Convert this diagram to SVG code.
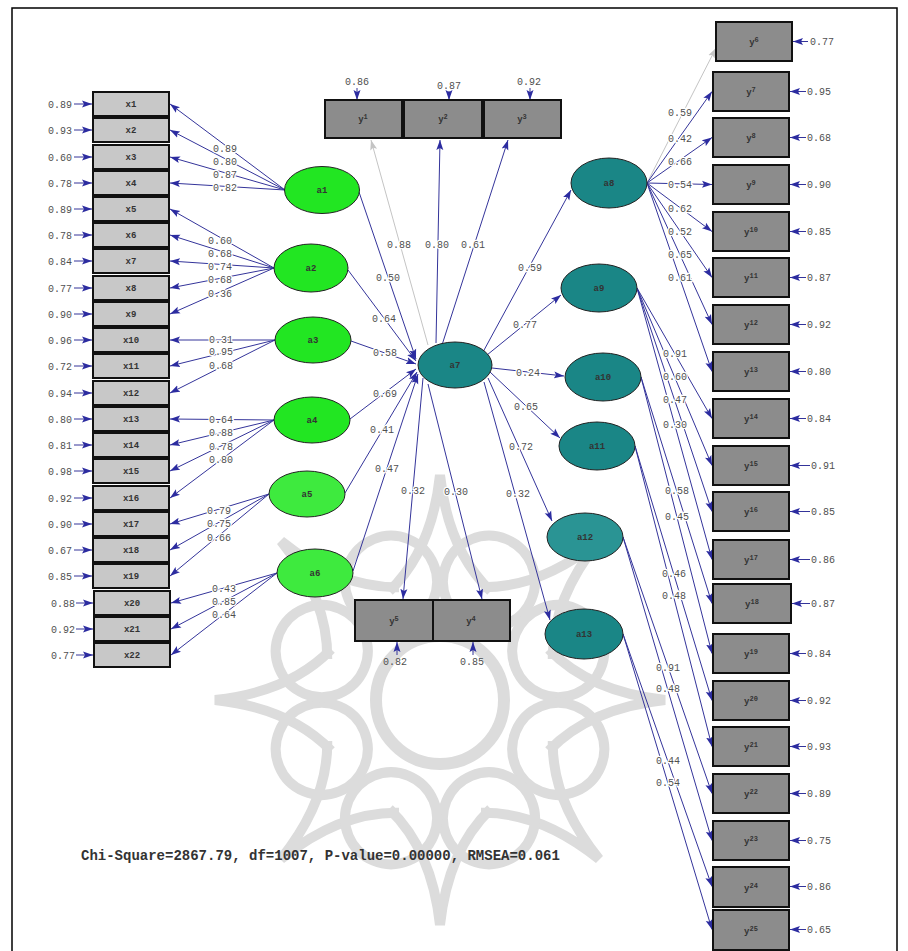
<svg xmlns="http://www.w3.org/2000/svg" xmlns:xlink="http://www.w3.org/1999/xlink" width="908" height="951" viewBox="0 0 908 951">
<defs>
<style>
.bx{fill:#c8c8c8;stroke:#111;stroke-width:2}
.by{fill:#8c8c8c;stroke:#111;stroke-width:2}
.g{fill:#22e622;stroke:#222;stroke-width:1}
.g2{fill:#3eea3e;stroke:#222;stroke-width:1}
.t{fill:#1a8686;stroke:#222;stroke-width:1}
.c line{stroke:#34349a;stroke-width:1;fill:none;marker-end:url(#ah)}
.c line.gr{stroke:#c4c4c4;marker-end:url(#ahg)}
.lb{font-family:"Liberation Mono",monospace;font-size:10px;fill:#505050;text-anchor:middle;paint-order:stroke;stroke:#fff;stroke-width:2.5px}
.el{font-family:"Liberation Mono",monospace;font-size:10px;fill:#505050}
.nl{font-family:"Liberation Mono",monospace;font-size:9px;font-weight:bold;fill:#333;text-anchor:middle}
.sup{font-size:7px}
.wm{fill:none;stroke:#dcdcdc;stroke-width:10}
</style>
<marker id="ah" markerUnits="userSpaceOnUse" markerWidth="10" markerHeight="8" refX="10" refY="4" orient="auto"><path d="M0,0.5 L10,4 L0,7.5 L2,4 z" fill="#2c2ca0"/></marker>
<marker id="ahg" markerUnits="userSpaceOnUse" markerWidth="10" markerHeight="8" refX="10" refY="4" orient="auto"><path d="M0,0.5 L10,4 L0,7.5 L2,4 z" fill="#c4c4c4"/></marker>
<path id="sp" d="M-50.7,-108.8 Q-8,-150 0,-225 Q8,-150 50.7,-108.8"/>
<circle id="lp" cx="0" cy="-128" r="46"/>
</defs>
<rect x="0" y="0" width="908" height="951" fill="#fff"/>
<rect x="12" y="8" width="885" height="960" fill="none" stroke="#000" stroke-width="1.5"/>

<g id="watermark" class="wm">
<use xlink:href="#sp" transform="translate(440,700) rotate(0)"/>
<use xlink:href="#sp" transform="translate(440,700) rotate(45)"/>
<use xlink:href="#sp" transform="translate(440,700) rotate(90)"/>
<use xlink:href="#sp" transform="translate(440,700) rotate(135)"/>
<use xlink:href="#sp" transform="translate(440,700) rotate(180)"/>
<use xlink:href="#sp" transform="translate(440,700) rotate(225)"/>
<use xlink:href="#sp" transform="translate(440,700) rotate(270)"/>
<use xlink:href="#sp" transform="translate(440,700) rotate(315)"/>
<use xlink:href="#lp" transform="translate(440,700) rotate(22.5)"/>
<use xlink:href="#lp" transform="translate(440,700) rotate(67.5)"/>
<use xlink:href="#lp" transform="translate(440,700) rotate(112.5)"/>
<use xlink:href="#lp" transform="translate(440,700) rotate(157.5)"/>
<use xlink:href="#lp" transform="translate(440,700) rotate(202.5)"/>
<use xlink:href="#lp" transform="translate(440,700) rotate(247.5)"/>
<use xlink:href="#lp" transform="translate(440,700) rotate(292.5)"/>
<use xlink:href="#lp" transform="translate(440,700) rotate(337.5)"/>
<circle cx="440" cy="700" r="64" stroke-width="12"/>
</g>

<g id="connectors" class="c">
<line x1="74" y1="104" x2="92" y2="104"/><line x1="74" y1="130" x2="92" y2="130"/><line x1="74" y1="157" x2="92" y2="157"/><line x1="74" y1="183" x2="92" y2="183"/><line x1="74" y1="209" x2="92" y2="209"/><line x1="74" y1="235" x2="92" y2="235"/><line x1="74" y1="261" x2="92" y2="261"/><line x1="74" y1="288" x2="92" y2="288"/><line x1="74" y1="314" x2="92" y2="314"/><line x1="74" y1="340" x2="92" y2="340"/><line x1="74" y1="366" x2="92" y2="366"/><line x1="74" y1="393" x2="92" y2="393"/><line x1="74" y1="419" x2="92" y2="419"/><line x1="74" y1="445" x2="92" y2="445"/><line x1="74" y1="471" x2="92" y2="471"/><line x1="74" y1="498" x2="92" y2="498"/><line x1="74" y1="524" x2="92" y2="524"/><line x1="74" y1="550" x2="92" y2="550"/><line x1="74" y1="576" x2="92" y2="576"/><line x1="76" y1="603" x2="93" y2="603"/><line x1="76" y1="629" x2="93" y2="629"/><line x1="76" y1="655" x2="93" y2="655"/>
<line x1="285" y1="190" x2="170" y2="104"/><line x1="285" y1="190" x2="170" y2="130"/><line x1="285" y1="190" x2="170" y2="157"/><line x1="285" y1="190" x2="170" y2="183"/>
<line x1="274" y1="268" x2="170" y2="209"/><line x1="274" y1="268" x2="170" y2="235"/><line x1="274" y1="268" x2="170" y2="261"/><line x1="274" y1="268" x2="170" y2="288"/><line x1="274" y1="268" x2="170" y2="314"/>
<line x1="275" y1="340" x2="170" y2="340"/><line x1="275" y1="340" x2="170" y2="366"/><line x1="275" y1="340" x2="170" y2="393"/>
<line x1="274" y1="420" x2="170" y2="419"/><line x1="274" y1="420" x2="170" y2="445"/><line x1="274" y1="420" x2="170" y2="471"/><line x1="274" y1="420" x2="170" y2="498"/>
<line x1="269" y1="494" x2="170" y2="524"/><line x1="269" y1="494" x2="170" y2="550"/><line x1="269" y1="494" x2="170" y2="576"/>
<line x1="277" y1="573" x2="171" y2="603"/><line x1="277" y1="573" x2="171" y2="629"/><line x1="277" y1="573" x2="171" y2="655"/>
<line x1="359" y1="192" x2="416" y2="359"/>
<line x1="348" y1="270" x2="416" y2="361"/>
<line x1="351" y1="341" x2="416" y2="364"/>
<line x1="350" y1="419" x2="416" y2="369"/>
<line x1="345" y1="493" x2="417" y2="372"/>
<line x1="353" y1="571" x2="418" y2="374"/>
<line class="gr" x1="428" y1="345" x2="371" y2="140"/>
<line x1="436" y1="343" x2="440" y2="140"/>
<line x1="442" y1="345" x2="508" y2="140"/>
<line x1="423" y1="378" x2="403" y2="599"/>
<line x1="428" y1="384" x2="482" y2="599"/>
<line x1="357" y1="88" x2="357" y2="100"/>
<line x1="449" y1="91" x2="449" y2="100"/>
<line x1="530" y1="88" x2="530" y2="100"/>
<line x1="397" y1="655" x2="397" y2="642"/>
<line x1="473" y1="655" x2="473" y2="642"/>
<line x1="483" y1="352" x2="571" y2="190"/>
<line x1="487" y1="355" x2="561" y2="295"/>
<line x1="492" y1="368" x2="564" y2="376"/>
<line x1="490" y1="372" x2="560" y2="438"/>
<line x1="488" y1="378" x2="552" y2="521"/>
<line x1="484" y1="382" x2="550" y2="620"/>
<line class="gr" x1="647" y1="183" x2="716" y2="48"/>
<line x1="647" y1="183" x2="712" y2="91.5"/>
<line x1="647" y1="183" x2="712" y2="137.5"/>
<line x1="647" y1="183" x2="712" y2="184.5"/>
<line x1="647" y1="183" x2="712" y2="231.5"/>
<line x1="647" y1="183" x2="712" y2="277.5"/>
<line x1="647" y1="183" x2="712" y2="324.5"/>
<line x1="647" y1="183" x2="712" y2="371.5"/>
<line x1="637" y1="288" x2="712" y2="418.5"/>
<line x1="637" y1="288" x2="712" y2="465.5"/>
<line x1="637" y1="288" x2="712" y2="511.5"/>
<line x1="637" y1="288" x2="712" y2="559.5"/>
<line x1="641" y1="377" x2="712" y2="603.5"/>
<line x1="641" y1="377" x2="712" y2="653.5"/>
<line x1="635" y1="446" x2="712" y2="700.5"/>
<line x1="635" y1="446" x2="712" y2="746.5"/>
<line x1="623" y1="537" x2="712" y2="793.5"/>
<line x1="623" y1="537" x2="712" y2="840.5"/>
<line x1="623" y1="634" x2="712" y2="886.5"/>
<line x1="623" y1="634" x2="712" y2="929.5"/>
<line x1="808" y1="41.5" x2="793" y2="41.5"/>
<line x1="806" y1="91.5" x2="790" y2="91.5"/><line x1="806" y1="137.5" x2="790" y2="137.5"/><line x1="806" y1="184.5" x2="790" y2="184.5"/><line x1="806" y1="231.5" x2="790" y2="231.5"/><line x1="806" y1="277.5" x2="790" y2="277.5"/><line x1="806" y1="324.5" x2="790" y2="324.5"/><line x1="806" y1="371.5" x2="790" y2="371.5"/><line x1="806" y1="418.5" x2="790" y2="418.5"/>
<line x1="810" y1="465.5" x2="790" y2="465.5"/><line x1="810" y1="511.5" x2="790" y2="511.5"/><line x1="810" y1="559.5" x2="790" y2="559.5"/><line x1="810" y1="603.5" x2="792" y2="603.5"/>
<line x1="806" y1="653.5" x2="790" y2="653.5"/><line x1="806" y1="700.5" x2="790" y2="700.5"/><line x1="806" y1="746.5" x2="790" y2="746.5"/><line x1="806" y1="793.5" x2="790" y2="793.5"/><line x1="806" y1="840.5" x2="790" y2="840.5"/><line x1="806" y1="886.5" x2="790" y2="886.5"/><line x1="806" y1="929.5" x2="790" y2="929.5"/>
</g>

<g id="path-labels" class="lb">
<text x="225" y="151.5">0.89</text><text x="225" y="164.5">0.80</text><text x="225" y="177.5">0.87</text><text x="225" y="190.5">0.82</text>
<text x="220" y="243.5">0.60</text><text x="220" y="256.5">0.68</text><text x="220" y="269.5">0.74</text><text x="220" y="282.5">0.68</text><text x="220" y="296.5">0.36</text>
<text x="221" y="342.5">0.31</text><text x="221" y="354.5">0.95</text><text x="221" y="368.5">0.68</text>
<text x="221" y="422.5">0.64</text><text x="221" y="435.5">0.88</text><text x="221" y="449.5">0.78</text><text x="221" y="462.5">0.80</text>
<text x="219" y="513.5">0.79</text><text x="219" y="526.5">0.75</text><text x="219" y="540.5">0.66</text>
<text x="224" y="591.5">0.43</text><text x="224" y="604.5">0.85</text><text x="224" y="617.5">0.64</text>
<text x="388" y="280.5">0.50</text><text x="384" y="321.5">0.64</text><text x="385" y="355.5">0.58</text><text x="385" y="396.5">0.69</text><text x="382" y="432.5">0.41</text><text x="387" y="471.5">0.47</text>
<text x="399" y="247.5">0.88</text><text x="437" y="247.5">0.80</text><text x="473" y="247.5">0.61</text>
<text x="413" y="493.5">0.32</text><text x="456" y="494.5">0.30</text>
<text x="530" y="270.5">0.59</text><text x="525" y="327.5">0.77</text><text x="528" y="375.5">0.24</text><text x="526" y="409.5">0.65</text><text x="521" y="449.5">0.72</text><text x="518" y="496.5">0.32</text>
<text x="680" y="115.5">0.59</text><text x="680" y="141.5">0.42</text><text x="680" y="164.5">0.66</text><text x="680" y="187.5">0.54</text><text x="680" y="211.5">0.62</text><text x="680" y="234.5">0.52</text><text x="680" y="257.5">0.65</text><text x="680" y="280.5">0.61</text>
<text x="675" y="356.5">0.91</text><text x="675" y="379.5">0.60</text><text x="675" y="402.5">0.47</text><text x="675" y="427.5">0.30</text>
<text x="677" y="493.5">0.58</text><text x="677" y="519.5">0.45</text>
<text x="674" y="576.5">0.46</text><text x="674" y="598.5">0.48</text>
<text x="668" y="670.5">0.91</text><text x="668" y="691.5">0.48</text>
<text x="668" y="763.5">0.44</text><text x="668" y="785.5">0.54</text>
</g>

<g id="error-labels" class="el">
<g text-anchor="end">
<text x="72" y="107.5">0.89</text><text x="72" y="133.5">0.93</text><text x="72" y="160.5">0.60</text><text x="72" y="186.5">0.78</text><text x="72" y="212.5">0.89</text><text x="72" y="238.5">0.78</text><text x="72" y="264.5">0.84</text><text x="72" y="291.5">0.77</text><text x="72" y="317.5">0.90</text><text x="72" y="343.5">0.96</text><text x="72" y="369.5">0.72</text><text x="72" y="396.5">0.94</text><text x="72" y="422.5">0.80</text><text x="72" y="448.5">0.81</text><text x="72" y="474.5">0.98</text><text x="72" y="501.5">0.92</text><text x="72" y="527.5">0.90</text><text x="72" y="553.5">0.67</text><text x="72" y="579.5">0.85</text><text x="75" y="606.5">0.88</text><text x="75" y="632.5">0.92</text><text x="75" y="658.5">0.77</text>
</g>
<g text-anchor="middle">
<text x="357" y="85">0.86</text><text x="449" y="89">0.87</text><text x="529" y="85">0.92</text>
<text x="395" y="665">0.82</text><text x="472" y="665">0.85</text>
</g>
<text x="810" y="45">0.77</text><text x="807" y="95">0.95</text><text x="807" y="141">0.68</text><text x="807" y="188">0.90</text><text x="807" y="235">0.85</text><text x="807" y="281">0.87</text><text x="807" y="328">0.92</text><text x="807" y="375">0.80</text><text x="807" y="422">0.84</text><text x="811" y="469">0.91</text><text x="811" y="515">0.85</text><text x="811" y="563">0.86</text><text x="811" y="607">0.87</text><text x="807" y="657">0.84</text><text x="807" y="704">0.92</text><text x="807" y="750">0.93</text><text x="807" y="797">0.89</text><text x="807" y="844">0.75</text><text x="807" y="890">0.86</text><text x="807" y="933">0.65</text>
</g>

<g id="x-nodes">
<g id="x1"><rect class="bx" x="93" y="92" width="76" height="24"/><text class="nl" x="131" y="107">x1</text></g>
<g id="x2"><rect class="bx" x="93" y="118" width="76" height="24"/><text class="nl" x="131" y="133">x2</text></g>
<g id="x3"><rect class="bx" x="93" y="145" width="76" height="24"/><text class="nl" x="131" y="160">x3</text></g>
<g id="x4"><rect class="bx" x="93" y="171" width="76" height="24"/><text class="nl" x="131" y="186">x4</text></g>
<g id="x5"><rect class="bx" x="93" y="197" width="76" height="24"/><text class="nl" x="131" y="212">x5</text></g>
<g id="x6"><rect class="bx" x="93" y="223" width="76" height="24"/><text class="nl" x="131" y="238">x6</text></g>
<g id="x7"><rect class="bx" x="93" y="249" width="76" height="24"/><text class="nl" x="131" y="264">x7</text></g>
<g id="x8"><rect class="bx" x="93" y="276" width="76" height="24"/><text class="nl" x="131" y="291">x8</text></g>
<g id="x9"><rect class="bx" x="93" y="302" width="76" height="24"/><text class="nl" x="131" y="317">x9</text></g>
<g id="x10"><rect class="bx" x="93" y="328" width="76" height="24"/><text class="nl" x="131" y="343">x10</text></g>
<g id="x11"><rect class="bx" x="93" y="354" width="76" height="24"/><text class="nl" x="131" y="369">x11</text></g>
<g id="x12"><rect class="bx" x="93" y="381" width="76" height="24"/><text class="nl" x="131" y="396">x12</text></g>
<g id="x13"><rect class="bx" x="93" y="407" width="76" height="24"/><text class="nl" x="131" y="422">x13</text></g>
<g id="x14"><rect class="bx" x="93" y="433" width="76" height="24"/><text class="nl" x="131" y="448">x14</text></g>
<g id="x15"><rect class="bx" x="93" y="459" width="76" height="24"/><text class="nl" x="131" y="474">x15</text></g>
<g id="x16"><rect class="bx" x="93" y="486" width="76" height="24"/><text class="nl" x="131" y="501">x16</text></g>
<g id="x17"><rect class="bx" x="93" y="512" width="76" height="24"/><text class="nl" x="131" y="527">x17</text></g>
<g id="x18"><rect class="bx" x="93" y="538" width="76" height="24"/><text class="nl" x="131" y="553">x18</text></g>
<g id="x19"><rect class="bx" x="93" y="564" width="76" height="24"/><text class="nl" x="131" y="579">x19</text></g>
<g id="x20"><rect class="bx" x="94" y="591" width="76" height="24"/><text class="nl" x="132" y="606">x20</text></g>
<g id="x21"><rect class="bx" x="94" y="617" width="76" height="24"/><text class="nl" x="132" y="632">x21</text></g>
<g id="x22"><rect class="bx" x="94" y="643" width="76" height="24"/><text class="nl" x="132" y="658">x22</text></g>
</g>

<g id="latent">
<g id="a1"><ellipse class="g" cx="322" cy="190" rx="37.5" ry="23.5"/><text class="nl" x="322" y="193">a1</text></g>
<g id="a2"><ellipse class="g" cx="311" cy="268" rx="37" ry="24"/><text class="nl" x="311" y="271">a2</text></g>
<g id="a3"><ellipse class="g" cx="313" cy="340" rx="38" ry="23"/><text class="nl" x="313" y="343">a3</text></g>
<g id="a4"><ellipse class="g" cx="312" cy="420" rx="38" ry="23"/><text class="nl" x="312" y="423">a4</text></g>
<g id="a5"><ellipse class="g2" cx="307" cy="494" rx="38" ry="23"/><text class="nl" x="307" y="497">a5</text></g>
<g id="a6"><ellipse class="g2" cx="315" cy="573" rx="38" ry="24"/><text class="nl" x="315" y="576">a6</text></g>
<g id="a7"><ellipse class="t" cx="455" cy="365" rx="37" ry="23"/><text class="nl" x="455" y="368">a7</text></g>
<g id="a8"><ellipse class="t" cx="609" cy="183" rx="38" ry="25"/><text class="nl" x="609" y="186">a8</text></g>
<g id="a9"><ellipse class="t" cx="599" cy="288" rx="38" ry="24"/><text class="nl" x="599" y="291">a9</text></g>
<g id="a10"><ellipse class="t" cx="603" cy="377" rx="38" ry="24"/><text class="nl" x="603" y="380">a10</text></g>
<g id="a11"><ellipse class="t" cx="597" cy="446" rx="38" ry="24"/><text class="nl" x="597" y="449">a11</text></g>
<g id="a12"><ellipse class="t" cx="585" cy="537" rx="38" ry="24" style="fill:#2a9494"/><text class="nl" x="585" y="540">a12</text></g>
<g id="a13"><ellipse class="t" cx="584" cy="634" rx="39" ry="25"/><text class="nl" x="584" y="637">a13</text></g>
</g>

<g id="y-nodes">
<g id="y1"><rect class="by" x="325" y="100" width="77" height="38"/><text class="nl" x="363" y="122">y<tspan class="sup" dy="-3">1</tspan></text></g>
<g id="y2"><rect class="by" x="404" y="100" width="78" height="38"/><text class="nl" x="443" y="122">y<tspan class="sup" dy="-3">2</tspan></text></g>
<g id="y3"><rect class="by" x="484" y="100" width="77" height="38"/><text class="nl" x="522" y="122">y<tspan class="sup" dy="-3">3</tspan></text></g>
<g id="y5"><rect class="by" x="355" y="600" width="78" height="41"/><text class="nl" x="394" y="624">y<tspan class="sup" dy="-3">5</tspan></text></g>
<g id="y4"><rect class="by" x="433" y="600" width="77" height="41"/><text class="nl" x="471" y="624">y<tspan class="sup" dy="-3">4</tspan></text></g>
<g id="y6"><rect class="by" x="716" y="22" width="76" height="39"/><text class="nl" x="754" y="45">y<tspan class="sup" dy="-3">6</tspan></text></g>
<g id="y7"><rect class="by" x="713" y="72" width="76" height="39"/><text class="nl" x="751" y="95">y<tspan class="sup" dy="-3">7</tspan></text></g>
<g id="y8"><rect class="by" x="713" y="118" width="76" height="39"/><text class="nl" x="751" y="141">y<tspan class="sup" dy="-3">8</tspan></text></g>
<g id="y9"><rect class="by" x="713" y="165" width="76" height="39"/><text class="nl" x="751" y="188">y<tspan class="sup" dy="-3">9</tspan></text></g>
<g id="y10"><rect class="by" x="713" y="212" width="76" height="39"/><text class="nl" x="751" y="235">y<tspan class="sup" dy="-3">10</tspan></text></g>
<g id="y11"><rect class="by" x="713" y="258" width="76" height="39"/><text class="nl" x="751" y="281">y<tspan class="sup" dy="-3">11</tspan></text></g>
<g id="y12"><rect class="by" x="713" y="305" width="76" height="39"/><text class="nl" x="751" y="328">y<tspan class="sup" dy="-3">12</tspan></text></g>
<g id="y13"><rect class="by" x="713" y="352" width="76" height="39"/><text class="nl" x="751" y="375">y<tspan class="sup" dy="-3">13</tspan></text></g>
<g id="y14"><rect class="by" x="713" y="399" width="76" height="39"/><text class="nl" x="751" y="422">y<tspan class="sup" dy="-3">14</tspan></text></g>
<g id="y15"><rect class="by" x="713" y="446" width="76" height="39"/><text class="nl" x="751" y="469">y<tspan class="sup" dy="-3">15</tspan></text></g>
<g id="y16"><rect class="by" x="713" y="492" width="76" height="39"/><text class="nl" x="751" y="515">y<tspan class="sup" dy="-3">16</tspan></text></g>
<g id="y17"><rect class="by" x="713" y="540" width="76" height="39"/><text class="nl" x="751" y="563">y<tspan class="sup" dy="-3">17</tspan></text></g>
<g id="y18"><rect class="by" x="713" y="584" width="78" height="39"/><text class="nl" x="752" y="607">y<tspan class="sup" dy="-3">18</tspan></text></g>
<g id="y19"><rect class="by" x="713" y="634" width="76" height="39"/><text class="nl" x="751" y="657">y<tspan class="sup" dy="-3">19</tspan></text></g>
<g id="y20"><rect class="by" x="713" y="681" width="76" height="39"/><text class="nl" x="751" y="704">y<tspan class="sup" dy="-3">20</tspan></text></g>
<g id="y21"><rect class="by" x="713" y="727" width="76" height="39"/><text class="nl" x="751" y="750">y<tspan class="sup" dy="-3">21</tspan></text></g>
<g id="y22"><rect class="by" x="713" y="774" width="76" height="39"/><text class="nl" x="751" y="797">y<tspan class="sup" dy="-3">22</tspan></text></g>
<g id="y23"><rect class="by" x="713" y="821" width="76" height="39"/><text class="nl" x="751" y="844">y<tspan class="sup" dy="-3">23</tspan></text></g>
<g id="y24"><rect class="by" x="713" y="867" width="76" height="40"/><text class="nl" x="751" y="891">y<tspan class="sup" dy="-3">24</tspan></text></g>
<g id="y25"><rect class="by" x="713" y="910" width="76" height="40"/><text class="nl" x="751" y="934">y<tspan class="sup" dy="-3">25</tspan></text></g>
</g>

<text x="81" y="860" font-family="'Liberation Mono',monospace" font-size="14" font-weight="bold" fill="#333">Chi-Square=2867.79, df=1007, P-value=0.00000, RMSEA=0.061</text>
</svg>
